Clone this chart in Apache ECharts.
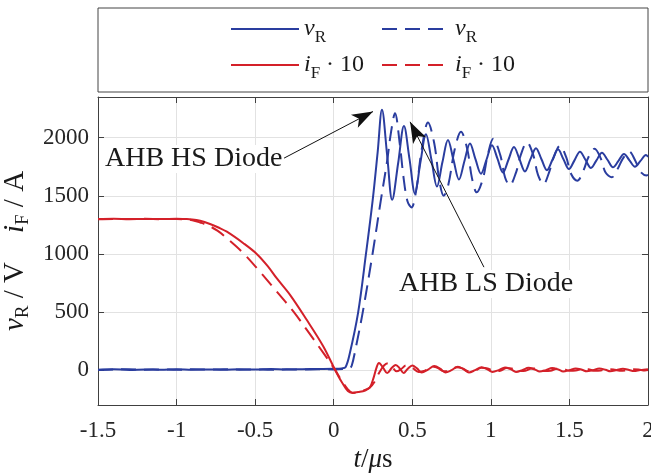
<!DOCTYPE html>
<html>
<head>
<meta charset="utf-8">
<script src="https://cdn.jsdelivr.net/npm/echarts@6/dist/echarts.min.js"></script>
<style>
  html, body { margin: 0; padding: 0; background: #fff; }
  #chart { width: 651px; height: 475px; }
</style>
</head>
<body>
<div id="chart"></div>
<script>
// t in us, values in V (vR) and A*10 (iF)
var vR_HS = [[-1.5,4],[-1.4,7],[-1.3,2],[-1.2,6],[-1.1,3],[-1.0,8],[-0.9,4],[-0.8,6],[-0.7,3],[-0.6,7],[-0.5,5],[-0.4,9],[-0.3,6],[-0.2,8],[-0.1,10],[0.0,12],[0.05,15],[0.075,25],[0.1,130],[0.155,493],[0.206,1008],[0.248,1463],[0.28,1880],[0.307,2240],[0.34,1850],[0.372,1465],[0.41,1780],[0.447,2100],[0.482,1820],[0.517,1520],[0.552,1790],[0.587,2030],[0.622,1810],[0.657,1580],[0.692,1790],[0.727,1980],[0.762,1810],[0.797,1640],[0.832,1800],[0.867,1950],[0.902,1815],[0.937,1690],[0.972,1810],[1.007,1935],[1.042,1820],[1.077,1700],[1.112,1810],[1.147,1920],[1.182,1815],[1.217,1710],[1.252,1815],[1.287,1910],[1.322,1815],[1.357,1720],[1.392,1810],[1.427,1900],[1.462,1815],[1.497,1730],[1.532,1805],[1.567,1880],[1.602,1810],[1.637,1740],[1.672,1805],[1.707,1870],[1.742,1810],[1.777,1745],[1.812,1800],[1.847,1860],[1.882,1805],[1.917,1750],[1.952,1800],[1.987,1850],[2.0,1835]];
var vR_LS = [[-1.5,2],[-1.4,5],[-1.3,8],[-1.2,4],[-1.1,6],[-1.0,3],[-0.9,7],[-0.8,5],[-0.7,8],[-0.6,4],[-0.5,6],[-0.4,3],[-0.3,7],[-0.2,5],[-0.1,8],[0.0,6],[0.06,9],[0.1,15],[0.115,40],[0.14,190],[0.184,493],[0.248,1008],[0.3,1463],[0.34,1800],[0.365,2050],[0.39,2210],[0.42,1950],[0.445,1650],[0.47,1450],[0.495,1400],[0.525,1550],[0.56,1900],[0.6,2130],[0.64,1950],[0.67,1650],[0.7,1500],[0.73,1600],[0.77,1900],[0.81,2050],[0.85,1900],[0.88,1650],[0.91,1530],[0.95,1650],[0.98,1850],[1.015,1990],[1.06,1850],[1.09,1660],[1.12,1590],[1.16,1700],[1.19,1850],[1.23,1960],[1.27,1850],[1.30,1680],[1.335,1600],[1.37,1700],[1.40,1830],[1.44,1930],[1.48,1830],[1.51,1690],[1.55,1630],[1.59,1720],[1.62,1830],[1.66,1905],[1.70,1820],[1.73,1700],[1.77,1660],[1.81,1740],[1.84,1820],[1.88,1880],[1.92,1800],[1.95,1710],[1.99,1675],[2.0,1680]];
var iF_HS = [[-1.5,1300],[-1.4,1302],[-1.3,1299],[-1.2,1301],[-1.1,1300],[-1.0,1302],[-0.95,1300],[-0.9,1297],[-0.85,1285],[-0.787,1257],[-0.73,1225],[-0.68,1191],[-0.575,1092],[-0.49,1000],[-0.42,895],[-0.363,791],[-0.278,648],[-0.172,433],[-0.066,204],[0.008,4],[0.05,-100],[0.09,-180],[0.12,-195],[0.16,-188],[0.2,-175],[0.23,-150],[0.255,-60],[0.272,20],[0.288,62],[0.315,20],[0.34,-25],[0.37,20],[0.395,45],[0.42,15],[0.445,-25],[0.47,10],[0.5,40],[0.53,15],[0.56,-20],[0.6,5],[0.64,35],[0.68,10],[0.71,-20],[0.75,0],[0.79,30],[0.83,5],[0.86,-20],[0.9,0],[0.94,25],[0.98,5],[1.01,-15],[1.05,0],[1.09,22],[1.13,5],[1.16,-15],[1.2,0],[1.24,20],[1.28,5],[1.31,-12],[1.35,0],[1.39,18],[1.43,5],[1.46,-12],[1.5,0],[1.54,15],[1.58,3],[1.61,-10],[1.65,0],[1.69,14],[1.73,3],[1.76,-10],[1.8,0],[1.84,12],[1.88,2],[1.91,-8],[1.95,0],[2.0,8]];
var iF_LS = [[-1.5,1298],[-1.4,1301],[-1.3,1300],[-1.2,1302],[-1.1,1299],[-1.0,1300],[-0.95,1298],[-0.9,1290],[-0.85,1270],[-0.8,1245],[-0.74,1200],[-0.68,1135],[-0.575,1006],[-0.47,848],[-0.363,677],[-0.257,505],[-0.172,348],[-0.066,148],[0.008,4],[0.05,-90],[0.09,-165],[0.12,-196],[0.16,-190],[0.2,-170],[0.23,-150],[0.26,-100],[0.29,-20],[0.32,40],[0.345,60],[0.37,30],[0.4,-10],[0.43,10],[0.46,40],[0.5,20],[0.54,-15],[0.58,-5],[0.62,30],[0.66,20],[0.7,-10],[0.74,-5],[0.78,25],[0.82,15],[0.86,-10],[0.9,-5],[0.94,20],[0.98,15],[1.02,-8],[1.06,-5],[1.1,18],[1.14,12],[1.18,-8],[1.22,-5],[1.26,15],[1.3,10],[1.34,-8],[1.38,-5],[1.42,12],[1.46,10],[1.5,-6],[1.54,-4],[1.58,10],[1.62,8],[1.66,-6],[1.7,-3],[1.74,9],[1.78,6],[1.82,-5],[1.86,-2],[1.9,8],[1.94,5],[1.98,-4],[2.0,0]];

// annotation arrows: [tail, head]
var hsArrow = [[-0.316, 1824], [0.25, 2225]];
var lsArrow = [[0.956, 886], [0.486, 2136]];

var FONT = '"Liberation Serif", "DejaVu Serif", serif';
var BLUE = '#2a3d9f';
var RED = '#d42029';
var AXIS = '#404040';
var GRID = '#e2e2e2';

var legendLabels = {
  vR_HS: '{it|v}{sub|R}',
  vR_LS: '{it|v}{sub|R}',
  iF_HS: '{it|i}{sub|F}{rm| \u00b7 10}',
  iF_LS: '{it|i}{sub|F}{rm| \u00b7 10}'
};

var richText = {
  it: { fontFamily: FONT, fontStyle: 'italic', fontSize: 24, lineHeight: 34, color: '#1a1a1a' },
  rm: { fontFamily: FONT, fontSize: 24, lineHeight: 34, color: '#1a1a1a' },
  sub: { fontFamily: FONT, fontSize: 17, lineHeight: 14, verticalAlign: 'bottom', color: '#1a1a1a' }
};

var chart = echarts.init(document.getElementById('chart'));

function legendOf(left, names) {
  return {
    orient: 'vertical',
    left: left,
    top: 17,
    padding: 0,
    itemWidth: 68,
    itemHeight: 14,
    itemGap: 7,
    z: 10,
    data: names,
    itemStyle: { opacity: 0 },
    formatter: function (n) { return legendLabels[n]; },
    textStyle: { rich: richText }
  };
}

function lineSeries(name, data, color, dashed) {
  return {
    name: name,
    type: 'line',
    data: data,
    showSymbol: false,
    symbol: 'none',
    smooth: 0.35,
    animation: false,
    lineStyle: { color: color, width: 2, type: dashed ? [15, 8] : 'solid' },
    itemStyle: { color: color }
  };
}

var seriesList = [
  lineSeries('vR_HS', vR_HS, BLUE, false),
  lineSeries('vR_LS', vR_LS, BLUE, true),
  lineSeries('iF_HS', iF_HS, RED, false),
  lineSeries('iF_LS', iF_LS, RED, true)
];
seriesList[0].markLine = {
  silent: true,
  animation: false,
  symbol: ['none', 'arrow'],
  symbolSize: [11, 21],
  label: { show: false },
  lineStyle: { color: '#111', width: 1, type: 'solid' },
  data: [
    [{ coord: hsArrow[0] }, { coord: hsArrow[1] }],
    [{ coord: lsArrow[0] }, { coord: lsArrow[1] }]
  ]
};

var baseX = {
  type: 'value', min: -1.5, max: 2, interval: 0.5,
  axisLine: { onZero: false, lineStyle: { color: AXIS, width: 1 } },
  axisTick: { inside: true, length: 6, lineStyle: { color: AXIS } }
};
var baseY = {
  type: 'value', min: -300, max: 2350, splitNumber: 5,
  axisLine: { onZero: false, lineStyle: { color: AXIS, width: 1 } },
  axisTick: { inside: true, length: 6, lineStyle: { color: AXIS } }
};

chart.setOption({
  backgroundColor: '#fff',
  animation: false,
  grid: { left: 98, right: 3, top: 97, bottom: 70, containLabel: false, outerBoundsMode: 'none' },
  legend: [legendOf(230, ['vR_HS', 'iF_HS']), legendOf(381, ['vR_LS', 'iF_LS'])],
  graphic: [
    { type: 'rect', z: 1, shape: { x: 98, y: 8, width: 550, height: 84 },
      style: { fill: '#fff', stroke: '#444', lineWidth: 1 } },
    { type: 'text', z: 20, left: 104, top: 145,
      style: { text: 'AHB HS Diode', font: '28px ' + FONT, fill: '#1a1a1a', backgroundColor: '#fff', padding: [0, 1] } },
    { type: 'text', z: 20, left: 398, top: 270,
      style: { text: 'AHB LS Diode', font: '28px ' + FONT, fill: '#1a1a1a', backgroundColor: '#fff', padding: [0, 1] } }
  ],
  xAxis: [
    Object.assign({}, baseX, {
      position: 'bottom',
      axisLabel: { fontFamily: FONT, fontSize: 23, color: '#262626', margin: 14 },
      splitLine: { show: true, lineStyle: { color: GRID, width: 1 } },
      name: '{it|t}{rm|/}{it|\u03bc}{rm|s}',
      nameLocation: 'middle',
      nameGap: 41,
      nameTextStyle: { rich: {
        it: { fontFamily: FONT, fontStyle: 'italic', fontSize: 27, color: '#1a1a1a' },
        rm: { fontFamily: FONT, fontSize: 27, color: '#1a1a1a' }
      } }
    }),
    Object.assign({}, baseX, {
      position: 'top',
      axisLabel: { show: false },
      splitLine: { show: false }
    })
  ],
  yAxis: [
    Object.assign({}, baseY, {
      position: 'left',
      axisLabel: { fontFamily: FONT, fontSize: 23, color: '#262626', margin: 9, showMinLabel: false, showMaxLabel: false,
        formatter: function (v) { return String(v); } },
      splitLine: { show: true, lineStyle: { color: GRID, width: 1 } },
      name: '{it|v}{sub|R}{rm| / V    }{it|i}{sub|F}{rm| / A}',
      nameLocation: 'middle',
      nameRotate: 90,
      nameGap: 40,
      nameTextStyle: { rich: {
        it: { fontFamily: FONT, fontStyle: 'italic', fontSize: 29, lineHeight: 34, color: '#1a1a1a' },
        rm: { fontFamily: FONT, fontSize: 29, lineHeight: 34, color: '#1a1a1a' },
        sub: { fontFamily: FONT, fontSize: 19, lineHeight: 14, verticalAlign: 'bottom', color: '#1a1a1a' }
      } }
    }),
    Object.assign({}, baseY, {
      position: 'right',
      axisLabel: { show: false },
      splitLine: { show: false }
    })
  ],
  series: seriesList
});
</script>
</body>
</html>
